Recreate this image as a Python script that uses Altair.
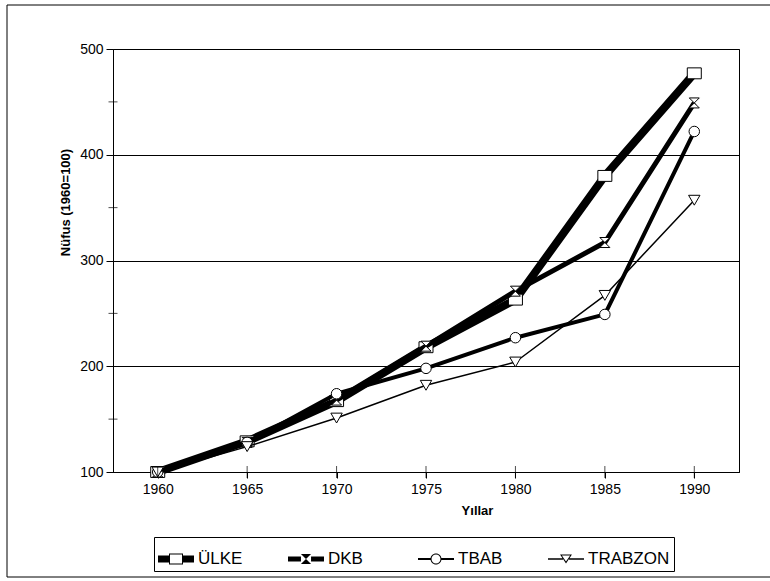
import altair as alt
import pandas as pd

years = [1960, 1965, 1970, 1975, 1980, 1985, 1990]
ulke = [100, 129, 167, 218, 263, 380, 477]
dkb = [100, 128, 168, 219, 271, 317, 449]
tbab = [100, 128, 174, 198, 227, 249, 422]
trabzon = [100, 124, 151, 182, 204, 267, 357]
series_names = ["ÜLKE", "DKB", "TBAB", "TRABZON"]
y_major = [100, 200, 300, 400, 500]
y_minor = [150, 250, 350, 450]

values = {"ÜLKE": ulke, "DKB": dkb, "TBAB": tbab, "TRABZON": trabzon}
rows = [{"year": y, "series": s, "value": v}
        for s in series_names for y, v in zip(years, values[s])]
df = pd.DataFrame(rows)

FONT = "Liberation Sans"
W, H = 626, 423

xs = alt.Scale(domain=[1957.5, 1992.5], nice=False, zero=False)
ys = alt.Scale(domain=[100, 500], nice=False, zero=False)

X = alt.X("year:Q", scale=xs, axis=alt.Axis(
    values=years, format="d", title="Yıllar", titleFont=FONT,
    titleFontWeight="bold", titleFontSize=13, titleColor="black",
    titleX=364, titleY=38, titleBaseline="middle", titleAlign="center",
    labelFont=FONT, labelFontSize=14, labelColor="black", labelPadding=4,
    tickSize=6, tickColor="black", domainColor="black", grid=False))
Y = alt.Y("value:Q", scale=ys, axis=alt.Axis(
    values=y_major, title="Nüfus (1960=100)", titleFont=FONT,
    titleFontWeight="bold", titleFontSize=13, titleColor="black",
    titleX=-48, titleY=153, titleAngle=270, titleBaseline="middle",
    titleAlign="center", labelFont=FONT, labelFontSize=14,
    labelColor="black", labelPadding=3, tickSize=7, tickColor="black",
    domainColor="black", grid=True, gridColor="black", gridWidth=1,
    gridOpacity=1))

# marker shapes in the plot
square = "M-1,-0.78H1V0.78H-1Z"
hourglass = "M-1,-1H1L-1,1H1Z"
styles = {
    "ÜLKE": dict(w=8, shape=square, size=196),
    "DKB": dict(w=5, shape=hourglass, size=100),
    "TBAB": dict(w=4, shape="circle", size=110),
    "TRABZON": dict(w=1.5, shape="triangle-down", size=130),
}

# legend symbols (line + hollow marker, drawn as one filled path)
leg_ulke = ("M-1,-0.194H-0.39V0.194H-1Z M0.39,-0.194H1V0.194H0.39Z "
            "M-0.39,-0.306H0.39V0.306H-0.39Z M-0.334,-0.25V0.25H0.334V-0.25Z")
leg_dkb = ("M-1,-0.139H-0.28V0.139H-1Z M0.28,-0.139H1V0.139H0.28Z "
           "M-0.28,-0.28H0.28L-0.28,0.28H0.28Z")
leg_tbab = ("M-1,-0.056H-0.3V0.056H-1Z M0.3,-0.056H1V0.056H0.3Z "
            "M0.306,0A0.306,0.306 0 1,1 -0.306,0A0.306,0.306 0 1,1 0.306,0Z "
            "M0.25,0A0.25,0.25 0 1,0 -0.25,0A0.25,0.25 0 1,0 0.25,0Z")
leg_trab = ("M-1,-0.042H-0.17V0.042H-1Z M0.17,-0.042H1V0.042H0.17Z "
            "M-0.33,-0.25L0.33,-0.25L0,0.25Z M-0.23,-0.194L0,0.14L0.23,-0.194Z")
legend_paths = [leg_ulke, leg_dkb, leg_tbab, leg_trab]

frame = alt.Chart(pd.DataFrame({"a": [0]})).mark_rect(
    filled=False, stroke="black", strokeWidth=1).encode(
    x=alt.value(-106), x2=alt.value(700), y=alt.value(-44), y2=alt.value(528))

layers = [frame]
for s in series_names:
    st = styles[s]
    base = alt.Chart(df).transform_filter(alt.datum.series == s)
    layers.append(base.mark_line(color="black", strokeWidth=st["w"],
                                 strokeJoin="round").encode(x=X, y=Y))
    layers.append(base.mark_point(shape=st["shape"], size=st["size"],
                                  filled=True, fill="white", stroke="black",
                                  strokeWidth=1, opacity=1).encode(x=X, y=Y))

xt = alt.Chart(pd.DataFrame({"year": years, "value": [100] * len(years)})).mark_tick(
    orient="vertical", size=12, thickness=1, color="black").encode(x=X, y=Y)
yt = alt.Chart(pd.DataFrame({"value": y_minor})).mark_tick(
    orient="horizontal", size=9, thickness=1, color="black").encode(
    x=alt.value(0), y=alt.Y("value:Q", scale=ys))

leg = alt.Chart(df[df.year == 1960]).mark_point(
    filled=True, fill="black", strokeWidth=0, opacity=0).encode(
    x=X, y=Y,
    shape=alt.Shape("series:N",
                    scale=alt.Scale(domain=series_names, range=legend_paths),
                    legend=alt.Legend(
                        title=None, orient="none", legendX=41, legendY=488,
                        direction="horizontal", columns=4, gridAlign="all",
                        strokeColor="black", fillColor="white", padding=4,
                        symbolSize=1296, symbolOpacity=1,
                        symbolFillColor="black", symbolStrokeWidth=0,
                        labelFont=FONT, labelFontSize=17, labelColor="black",
                        labelOffset=4, columnPadding=8)))

chart = alt.layer(*layers, xt, yt, leg).properties(
    width=W, height=H,
    padding={"left": 113, "top": 49, "right": 31, "bottom": 109},
    autosize=alt.AutoSizeParams(type="none"),
).configure(background="white", font=FONT).configure_view(
    stroke="black", strokeWidth=1)

chart.save("out.html", embed_options={"renderer": "svg", "actions": False})
